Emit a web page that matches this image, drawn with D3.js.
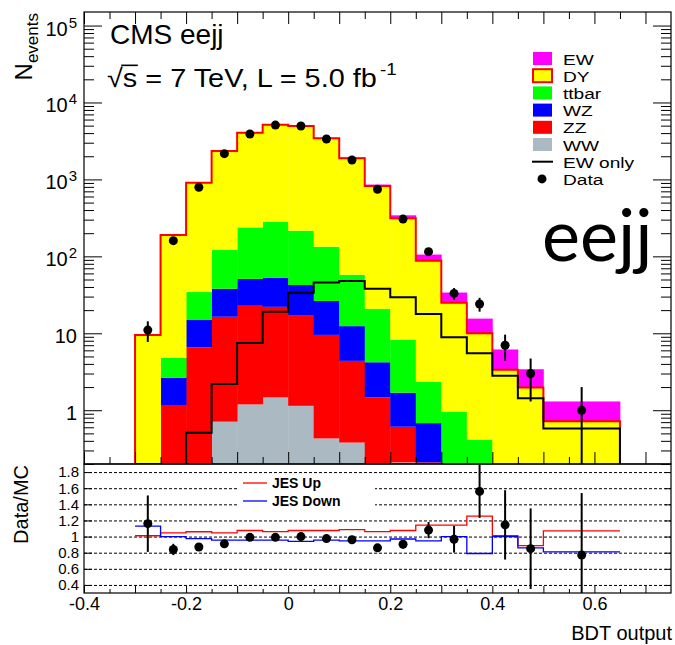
<!DOCTYPE html>
<html>
<head>
<meta charset="utf-8">
<script src="https://cdn.jsdelivr.net/npm/d3@7"></script>
<style>
  body { margin: 0; background: #fff; }
  svg { display: block; }
  text { font-family: "Liberation Sans", Arial, Helvetica, sans-serif; fill: #000; }
</style>
</head>
<body>
<svg id="chart" width="675" height="645"></svg>
<script>
// BDT output bins: 16 bins of width 0.05 and one wide bin 0.5 - 0.65
const binEdges = [-0.3, -0.25, -0.2, -0.15, -0.1, -0.05, 0, 0.05, 0.1, 0.15, 0.2, 0.25, 0.3, 0.35, 0.4, 0.45, 0.5, 0.65];

// Expected events per bin for each background / signal process
const wwEvents    = [0, 0, 0, 0.71, 1.19, 1.47, 1.14, 0.43, 0.38, 0.05, 0.21, 0, 0, 0, 0, 0, 0];
const zzEvents    = [0, 1.17, 6.57, 15.7, 21.6, 20.6, 15.8, 9.1, 4.0, 1.42, 0.40, 0.21, 0.02, 0, 0, 0, 0];
const wzEvents    = [0, 1.48, 8.3, 21.5, 28.2, 30.9, 25.5, 16.8, 8.0, 2.73, 1.08, 0.47, 0.08, 0, 0, 0, 0];
const ttbarEvents = [0, 2.15, 19.5, 83, 187, 229, 173, 107, 45.3, 16.5, 6.5, 1.67, 0.86, 0.41, 0.05, 0, 0];
const dyEvents    = [9.5, 184, 872, 2219, 3807, 4858, 4725, 3287, 1822, 799, 304, 85.3, 24, 9.6, 3.3, 1.98, 0.72];
const ewEvents    = [0.05, 0.15, 0.51, 2.19, 7.5, 19, 33.6, 45.7, 47.8, 38, 29.3, 17.8, 8.9, 5.5, 2.81, 1.43, 0.58];

// Observed data and its uncertainty
const dataEvents = [11, 160, 790, 2160, 3900, 5080, 4950, 3350, 1790, 745, 305, 115, 33, 24, 7, 3, 1];
const dataErrors = [3.3, 12.6, 28.1, 46.5, 62.4, 71.3, 70.4, 57.9, 42.3, 27.3, 17.5, 10.7, 5.7, 4.9, 2.6, 1.7, 1.0];

// Ratio panel: data / MC and jet-energy-scale variations
const ratioValues = [1.16, 0.84, 0.87, 0.91, 0.99, 0.99, 1.00, 0.975, 0.96, 0.86, 0.905, 1.08, 0.967, 1.56, 1.145, 0.85, 0.77];
const ratioErrors = [0.35, 0.07, 0.03, 0.02, 0.016, 0.014, 0.014, 0.017, 0.023, 0.032, 0.052, 0.10, 0.165, 0.33, 0.43, 0.5, 0.77];
const jesUp   = [1.01, 1.045, 1.06, 1.045, 1.075, 1.062, 1.075, 1.075, 1.087, 1.062, 1.075, 1.141, 1.141, 1.253, 1.012, 0.888, 1.07];
const jesDown = [1.13, 1.0, 0.975, 0.955, 0.955, 0.955, 0.94, 0.955, 0.946, 0.946, 0.97, 0.946, 1.0, 0.79, 1.0, 0.86, 0.81];

// Axis labels
const xTickLabels = [-0.4, -0.2, 0, 0.2, 0.4, 0.6];
const yDecades = [1, 10, 100, 1000, 10000, 100000];
const ratioTicks = [0.4, 0.6, 0.8, 1.0, 1.2, 1.4, 1.6, 1.8];

const processNames  = ["WW", "ZZ", "WZ", "ttbar", "DY", "EW"];
const processColors = { WW: "#abb9c3", ZZ: "#ff0000", WZ: "#0000ff", ttbar: "#00ff00", DY: "#ffff00", EW: "#ff00ff" };
const processValues = { WW: wwEvents, ZZ: zzEvents, WZ: wzEvents, ttbar: ttbarEvents, DY: dyEvents, EW: ewEvents };

const svg = d3.select("#chart");
const L = 84, R = 671, T = 12, B = 464, RB = 593;

const x  = d3.scaleLinear().domain([-0.4, 0.75]).range([L, R]);
const y  = d3.scaleLog().domain([0.2, 1.5e5]).range([B, T]).clamp(true);
const yr = d3.scaleLinear().domain([0.3, 1.9]).range([RB, B]).clamp(true);
const ys = v => y(Math.max(v, 1e-6));

const defs = svg.append("defs");
defs.append("clipPath").attr("id", "clipTop").append("rect")
  .attr("x", L).attr("y", T).attr("width", R - L).attr("height", B - T);
defs.append("clipPath").attr("id", "clipBot").append("rect")
  .attr("x", L).attr("y", B).attr("width", R - L).attr("height", RB - B);

const nBins = dataEvents.length;
const bins = d3.range(nBins).map(i => ({
  i, lo: binEdges[i], hi: binEdges[i + 1], mid: (binEdges[i] + binEdges[i + 1]) / 2
}));

// ---------- upper panel: stacked histogram ----------
const rows = bins.map(b => {
  const r = {};
  processNames.forEach(n => r[n] = processValues[n][b.i]);
  return r;
});
const layers = d3.stack().keys(processNames)(rows);

const upper = svg.append("g").attr("clip-path", "url(#clipTop)");

layers.forEach(layer => {
  upper.append("g").selectAll("rect")
    .data(layer.map((d, i) => ({ y0: d[0], y1: d[1], b: bins[i] })).filter(d => d.y1 > d.y0))
    .join("rect")
    .attr("x", d => x(d.b.lo))
    .attr("width", d => x(d.b.hi) - x(d.b.lo) + 0.4)
    .attr("y", d => ys(d.y1))
    .attr("height", d => (d.y0 > 0 ? ys(d.y0) : B) - ys(d.y1))
    .attr("fill", processColors[layer.key]);
});

function stepPoints(vals, scale) {
  const logScale = scale === y;
  const pts = [[x(binEdges[0]), logScale ? B : scale(vals[0])]];
  bins.forEach(b => {
    const v = logScale ? ys(vals[b.i]) : scale(vals[b.i]);
    pts.push([x(b.lo), v], [x(b.hi), v]);
  });
  if (logScale) pts.push([x(binEdges[binEdges.length - 1]), B]);
  return pts;
}
const line = d3.line();

// DY outline at the top of the DY layer
const dyLayer = layers.find(l => l.key === "DY");
upper.append("path")
  .attr("d", line(stepPoints(dyLayer.map(d => d[1]), y)))
  .attr("fill", "none").attr("stroke", "#ff0000").attr("stroke-width", 2);

// EW-only distribution
upper.append("path")
  .attr("d", line(stepPoints(ewEvents, y)))
  .attr("fill", "none").attr("stroke", "#000").attr("stroke-width", 2);

// data points
upper.append("g").selectAll("line")
  .data(bins).join("line")
  .attr("x1", b => x(b.mid)).attr("x2", b => x(b.mid))
  .attr("y1", b => ys(dataEvents[b.i] - dataErrors[b.i]))
  .attr("y2", b => ys(dataEvents[b.i] + dataErrors[b.i]))
  .attr("stroke", "#000").attr("stroke-width", 2);
upper.append("g").selectAll("circle")
  .data(bins).join("circle")
  .attr("cx", b => x(b.mid)).attr("cy", b => ys(dataEvents[b.i]))
  .attr("r", 4.5).attr("fill", "#000");

// ---------- axes / ticks of the upper panel ----------
const xMajor = d3.range(-4, 8).map(k => k / 10);
const xMinor = d3.range(-4, 8).map(k => k / 10 + 0.05).filter(v => v < 0.75);
const yMinor = [];
[-1, 0, 1, 2, 3, 4].forEach(e => d3.range(2, 10).forEach(m => {
  const v = m * Math.pow(10, e);
  if (v >= 0.2 && v <= 1.5e5) yMinor.push(v);
}));

function ticks(g, axis) {
  g.call(axis.tickFormat(""));
  g.select(".domain").remove();
  g.selectAll("line").attr("stroke", "#000").attr("stroke-width", 1);
}
svg.append("g").attr("transform", `translate(0,${T})`).call(g => ticks(g, d3.axisBottom(x).tickValues(xMajor).tickSize(12)));
svg.append("g").attr("transform", `translate(0,${T})`).call(g => ticks(g, d3.axisBottom(x).tickValues(xMinor).tickSize(7)));
svg.append("g").attr("transform", `translate(0,${B})`).call(g => ticks(g, d3.axisTop(x).tickValues(xMajor).tickSize(12)));
svg.append("g").attr("transform", `translate(0,${B})`).call(g => ticks(g, d3.axisTop(x).tickValues(xMinor).tickSize(7)));
svg.append("g").attr("transform", `translate(${L},0)`).call(g => ticks(g, d3.axisRight(y).tickValues(yDecades).tickSize(18)));
svg.append("g").attr("transform", `translate(${L},0)`).call(g => ticks(g, d3.axisRight(y).tickValues(yMinor).tickSize(10)));
svg.append("g").attr("transform", `translate(${R},0)`).call(g => ticks(g, d3.axisLeft(y).tickValues(yDecades).tickSize(18)));
svg.append("g").attr("transform", `translate(${R},0)`).call(g => ticks(g, d3.axisLeft(y).tickValues(yMinor).tickSize(10)));

svg.append("rect").attr("x", L).attr("y", T).attr("width", R - L).attr("height", B - T)
  .attr("fill", "none").attr("stroke", "#000").attr("stroke-width", 1.2);

// y tick labels (powers of ten)
yDecades.forEach(v => {
  const e = Math.round(Math.log10(v));
  const t = svg.append("text").attr("x", 77).attr("y", y(v) + 10)
    .attr("text-anchor", "end").style("font-size", "20px");
  if (e < 2) t.text(String(v));
  else {
    t.append("tspan").text("10");
    t.append("tspan").attr("dy", -8).attr("dx", 1).style("font-size", "15px").text(String(e));
  }
});

// y axis title
const nt = svg.append("text").attr("transform", "translate(32,13) rotate(-90)")
  .attr("text-anchor", "end").style("font-size", "24px");
nt.append("tspan").text("N");
nt.append("tspan").attr("dy", 6).style("font-size", "17px").text("events");

// header texts
svg.append("text").attr("x", 110).attr("y", 44).style("font-size", "28px").text("CMS eejj");
const energyGroup = svg.append("g").attr("transform", "translate(107,87) scale(1.11,1)");
const en = energyGroup.append("text").attr("x", 0).attr("y", 0).style("font-size", "26px");
en.append("tspan").text("\u221As = 7 TeV, L = 5.0 fb");
en.append("tspan").attr("dy", -12).attr("dx", 3).style("font-size", "17px").text("-1");
{
  const node = en.node();
  const r0 = node.getExtentOfChar(0), r1 = node.getExtentOfChar(1);
  energyGroup.append("line")
    .attr("x1", r0.x + r0.width - 1.5).attr("x2", r1.x + r1.width + 0.5)
    .attr("y1", r0.y + 2).attr("y2", r0.y + 2)
    .attr("stroke", "#000").attr("stroke-width", 1.6);
}

svg.append("text").attr("x", 542).attr("y", 261)
  .style("font-family", "Lato, 'Open Sans', sans-serif").style("font-size", "72px").text("eejj");

// legend
const legendItems = [
  { label: "EW",      type: "box", key: "EW" },
  { label: "DY",      type: "box", key: "DY", outline: "#ff0000" },
  { label: "ttbar",   type: "box", key: "ttbar" },
  { label: "WZ",      type: "box", key: "WZ" },
  { label: "ZZ",      type: "box", key: "ZZ" },
  { label: "WW",      type: "box", key: "WW" },
  { label: "EW only", type: "line" },
  { label: "Data",    type: "dot" }
];
const leg = svg.append("g");
legendItems.forEach((it, k) => {
  const cy = 58.5 + k * 17.2;
  if (it.type === "box") {
    leg.append("rect").attr("x", 533).attr("y", cy - 6.5).attr("width", 19).attr("height", 13)
      .attr("fill", processColors[it.key])
      .attr("stroke", it.outline || "none").attr("stroke-width", 2);
  } else if (it.type === "line") {
    leg.append("line").attr("x1", 532).attr("x2", 553).attr("y1", cy).attr("y2", cy)
      .attr("stroke", "#000").attr("stroke-width", 2);
  } else {
    leg.append("circle").attr("cx", 542).attr("cy", cy).attr("r", 4.5).attr("fill", "#000");
  }
  leg.append("text").attr("transform", `translate(563,${cy + 6}) scale(1.25,1)`)
    .style("font-size", "15.3px").text(it.label);
});

// ---------- lower panel: data / MC ----------
const lower = svg.append("g");
lower.append("g").attr("transform", `translate(${L},0)`)
  .call(d3.axisRight(yr).tickValues(ratioTicks).tickSize(R - L).tickFormat(""))
  .call(g => g.select(".domain").remove())
  .selectAll("line").attr("stroke", "#000").attr("stroke-width", 1).attr("stroke-dasharray", "3,2");

// JES legend box
lower.append("rect").attr("x", 237).attr("y", 475).attr("width", 138).attr("height", 37).attr("fill", "#fff");
[{ label: "JES Up", color: "#ff0000", yy: 483 }, { label: "JES Down", color: "#0000ff", yy: 501 }].forEach(d => {
  lower.append("line").attr("x1", 243).attr("x2", 267).attr("y1", d.yy).attr("y2", d.yy)
    .attr("stroke", d.color).attr("stroke-width", 1.3);
  lower.append("text").attr("x", 272).attr("y", d.yy + 5).style("font-size", "14px")
    .style("font-weight", "bold").text(d.label);
});

const lowerClip = lower.append("g").attr("clip-path", "url(#clipBot)");
lowerClip.append("path").attr("d", line(stepPoints(jesUp, yr)))
  .attr("fill", "none").attr("stroke", "#ff0000").attr("stroke-width", 1.3);
lowerClip.append("path").attr("d", line(stepPoints(jesDown, yr)))
  .attr("fill", "none").attr("stroke", "#0000ff").attr("stroke-width", 1.3);
lowerClip.append("g").selectAll("line").data(bins).join("line")
  .attr("x1", b => x(b.mid)).attr("x2", b => x(b.mid))
  .attr("y1", b => yr(ratioValues[b.i] - ratioErrors[b.i]))
  .attr("y2", b => yr(ratioValues[b.i] + ratioErrors[b.i]))
  .attr("stroke", "#000").attr("stroke-width", 2);
lowerClip.append("g").selectAll("circle").data(bins).join("circle")
  .attr("cx", b => x(b.mid)).attr("cy", b => yr(ratioValues[b.i])).attr("r", 4.5).attr("fill", "#000");

// ticks of the lower panel
svg.append("g").attr("transform", `translate(0,${RB})`).call(g => ticks(g, d3.axisTop(x).tickValues(xMajor).tickSize(7)));
svg.append("g").attr("transform", `translate(0,${RB})`).call(g => ticks(g, d3.axisTop(x).tickValues(xMinor).tickSize(4)));
svg.append("g").attr("transform", `translate(${L},0)`).call(g => ticks(g, d3.axisRight(yr).tickValues(ratioTicks).tickSize(8)));
svg.append("g").attr("transform", `translate(${R},0)`).call(g => ticks(g, d3.axisLeft(yr).tickValues(ratioTicks).tickSize(6)));
svg.append("rect").attr("x", L).attr("y", B).attr("width", R - L).attr("height", RB - B)
  .attr("fill", "none").attr("stroke", "#000").attr("stroke-width", 1.2);

// tick labels of the lower panel
svg.append("g").attr("transform", `translate(0,${RB})`)
  .call(d3.axisBottom(x).tickValues(xTickLabels).tickSize(0).tickPadding(4)
    .tickFormat(d => d === 0 ? "0" : d3.format(".1f")(d).replace("\u2212", "-")))
  .call(g => g.select(".domain").remove())
  .selectAll("text").style("font-size", "18px").style("font-family", "'Liberation Sans', Arial, sans-serif");
svg.append("g").attr("transform", `translate(${L},0)`)
  .call(d3.axisLeft(yr).tickValues(ratioTicks).tickSize(0).tickPadding(5)
    .tickFormat(d => d === 1 ? "1" : d3.format(".1f")(d)))
  .call(g => g.select(".domain").remove())
  .selectAll("text").style("font-size", "15px").style("font-family", "'Liberation Sans', Arial, sans-serif");

svg.append("text").attr("transform", "translate(28,465) rotate(-90)")
  .attr("text-anchor", "end").style("font-size", "20px").text("Data/MC");
svg.append("text").attr("x", 672).attr("y", 640).attr("text-anchor", "end")
  .style("font-size", "20px").text("BDT output");
</script>
</body>
</html>
